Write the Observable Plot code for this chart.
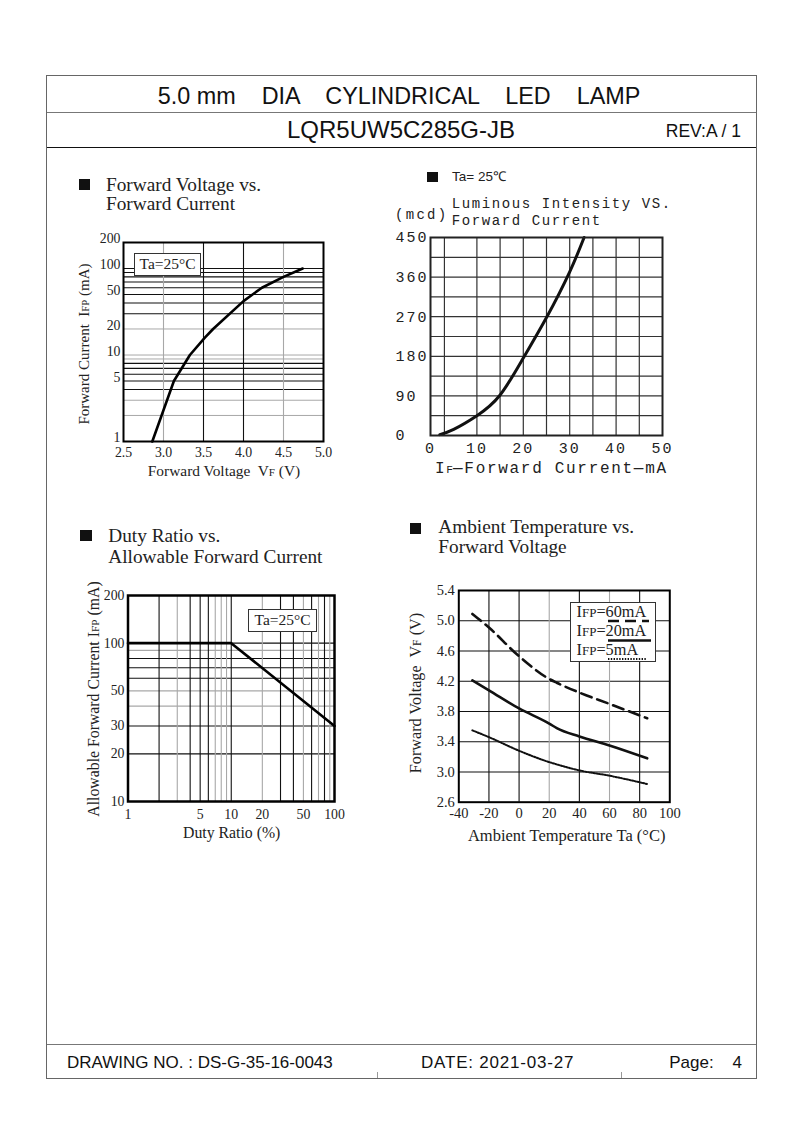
<!DOCTYPE html>
<html><head><meta charset="utf-8">
<script src="https://cdn.jsdelivr.net/npm/d3@7"></script>
<script src="https://cdn.jsdelivr.net/npm/@observablehq/plot@0.6"></script>
<style>
html,body{margin:0;padding:0;background:#fff;}
body{width:794px;height:1123px;position:relative;overflow:hidden;color:#222;}
.abs{position:absolute;white-space:pre;}
.box{position:absolute;background:#fff;border:1px solid #333;box-sizing:border-box;}
.sq{position:absolute;background:#111;}
.hl{position:absolute;}
svg{position:absolute;}
</style></head><body>
<script>
// ---------- DATA ----------
// Chart 1: Forward Voltage vs. Forward Current
const fvVoltage = [2.86, 3.13, 3.33, 3.52, 3.62, 4.0, 4.23, 4.5, 4.74];
const fvCurrent = [1, 5, 10, 16, 20, 42, 60, 80, 100];
const fvXTicks = [2.5, 3.0, 3.5, 4.0, 4.5, 5.0];
const fvYTicks = [1, 5, 10, 20, 50, 100, 200];
const fvXGrid = [3.0, 3.5, 4.0, 4.5];
const fvYGrid = [2, 3, 4, 5, 6, 7, 8, 9, 10, 20, 30, 40, 50, 60, 70, 80, 90, 100];

// Chart 2: Luminous Intensity vs. Forward Current
const liCurrent = [2, 5, 10, 15, 20, 25, 30, 33.1];
const liIntensity = [2, 14, 45, 92, 176, 268, 372, 450];
const liXTicks = [0, 10, 20, 30, 40, 50];
const liYTicks = [0, 90, 180, 270, 360, 450];
const liXGrid = [3, 10, 15, 20, 25, 30, 35, 40, 45];
const liYGrid = [45, 90, 135, 180, 225, 270, 315, 360, 405];

// Chart 3: Duty Ratio vs. Allowable Forward Current
const dutyRatio = [1, 10, 100];
const dutyCurrent = [100, 100, 30];
const dutyXTicks = [1, 5, 10, 20, 50, 100];
const dutyYTicks = [10, 20, 30, 50, 100, 200];
const dutyXGrid = [2, 3, 4, 5, 6, 7, 8, 9, 10, 20, 30, 40, 50, 60, 70, 80, 90];
const dutyYGrid = [20, 30, 40, 50, 60, 70, 80, 90, 100];

// Chart 4: Ambient Temperature vs. Forward Voltage
const ambTemp = [-31, -20, 0, 20, 25, 40, 60, 85];
const vf60mA = [5.09, 4.91, 4.53, 4.23, 4.18, 4.05, 3.90, 3.71];
const vf20mA = [4.21, 4.08, 3.84, 3.64, 3.58, 3.47, 3.35, 3.18];
const vf5mA  = [3.55, 3.46, 3.28, 3.13, 3.10, 3.02, 2.95, 2.84];
const ambXTicks = [-40, -20, 0, 20, 40, 60, 80, 100];
const ambYTicks = [2.6, 3.0, 3.4, 3.8, 4.2, 4.6, 5.0, 5.4];
const ambXGrid = [-20, 0, 20, 40, 60, 80];
const ambYGrid = [3.0, 3.4, 3.8, 4.2, 4.6, 5.0];
const ambSeries = [
  {name: "IFP=60mA", values: vf60mA},
  {name: "IFP=20mA", values: vf20mA},
  {name: "IFP=5mA", values: vf5mA}
];

// ---------- STYLE ----------
const GRAY = "#a8a8a8", BLACK = "#111";
const fvGrayX = [3.0, 4.5], fvGrayY = [2, 3, 9, 10, 20];
const dutyGrayX = [3, 7, 8, 9, 20, 50, 70, 90], dutyGrayY = [40, 50, 90];
const ambGrayX = [20, 60];
const SERIF = '"Liberation Serif","Times New Roman",serif';
const SANS = '"Liberation Sans",Arial,sans-serif';
const MONO = '"Liberation Mono","Courier New",monospace';
const K = {serif: 0.8375, sans: 0.8465, mono: 0.7665};
const FAM = {serif: SERIF, sans: SANS, mono: MONO};
const SUB = '<span style="font-size:0.72em">';

// ---------- helpers ----------
function put(el, left, top) { el.style.left = left + "px"; el.style.top = top + "px"; document.body.appendChild(el); return el; }
function div(cls, css) { const d = document.createElement("div"); d.className = cls; Object.assign(d.style, css || {}); document.body.appendChild(d); return d; }
function txt(html, x, baseline, o = {}) {
  const f = o.font || "serif", size = o.size || 14;
  const d = div("abs", {fontFamily: FAM[f], fontSize: size + "px", lineHeight: size + "px", color: o.color || "#222",
    letterSpacing: (o.ls || 0) + "px", top: (baseline - K[f] * size) + "px", left: x + "px"});
  if (o.anchor === "middle") d.style.transform = "translateX(-50%)";
  if (o.anchor === "end") d.style.transform = "translateX(-100%)";
  d.innerHTML = html;
  return d;
}
function vtxt(html, cx, cy, o = {}) {
  const f = o.font || "serif", size = o.size || 14;
  const d = div("abs", {fontFamily: FAM[f], fontSize: size + "px", lineHeight: size + "px", color: o.color || "#222",
    left: cx + "px", top: cy + "px", transform: "translate(-50%,-50%) rotate(-90deg)"});
  d.innerHTML = html;
  return d;
}
const split = (arr, gray) => [arr.filter(v => !gray.includes(v)), arr.filter(v => gray.includes(v))];

// ---------- PAGE FRAME ----------
div("hl", {left: "46px", top: "74.5px", width: "710.5px", height: "1004px", border: "1.5px solid #666", boxSizing: "border-box"});
div("hl", {left: "47px", top: "111.5px", width: "709px", height: "1.5px", background: "#777"});
div("hl", {left: "47px", top: "146.5px", width: "709px", height: "1.5px", background: "#111"});
div("hl", {left: "47px", top: "1043.5px", width: "709px", height: "1.5px", background: "#777"});
div("hl", {left: "377px", top: "1072px", width: "1px", height: "6px", background: "#999"});
div("hl", {left: "621px", top: "1072px", width: "1px", height: "6px", background: "#999"});

txt("5.0 mm    DIA    CYLINDRICAL    LED    LAMP", 399, 104.5, {font: "sans", size: 23.4, anchor: "middle", color: "#111"});
txt("LQR5UW5C285G-JB", 401, 138.5, {font: "sans", size: 24, anchor: "middle", color: "#111"});
txt("REV:A / 1", 741, 138, {font: "sans", size: 17.5, anchor: "end", color: "#111"});
txt("DRAWING NO. : DS-G-35-16-0043", 67, 1068.5, {font: "sans", size: 17, color: "#111"});
txt("DATE: 2021-03-27", 421, 1068.5, {font: "sans", size: 17, ls: 0.8, color: "#111"});
txt("Page:    4", 742, 1068.5, {font: "sans", size: 17, anchor: "end", color: "#111"});

// ---------- CHART TITLES ----------
const TS = 19.3;
div("sq", {left: "78.5px", top: "178.5px", width: "11.5px", height: "11.5px"});
txt("Forward Voltage vs.", 106, 191, {size: TS});
txt("Forward Current", 106, 210, {size: TS});

div("sq", {left: "427px", top: "171.5px", width: "11px", height: "10px"});
txt("Ta= 25℃", 452, 181.5, {font: "sans", size: 13.5});
txt("(mcd)", 395, 218.3, {font: "mono", size: 14, ls: 2.3});
txt("Luminous Intensity VS.", 451.7, 207.3, {font: "mono", size: 14, ls: 1.6});
txt("Forward Current", 451.7, 224.3, {font: "mono", size: 14, ls: 1.6});

div("sq", {left: "80px", top: "530px", width: "11.5px", height: "10.5px"});
txt("Duty Ratio vs.", 108.3, 541.7, {size: TS});
txt("Allowable Forward Current", 108.3, 562.7, {size: TS});

div("sq", {left: "410px", top: "523px", width: "11px", height: "10.5px"});
txt("Ambient Temperature vs.", 438.3, 533.3, {size: TS});
txt("Forward Voltage", 438.3, 553.3, {size: TS});

// ---------- CHART 1 ----------
{
  const [bx, gx] = split(fvXGrid, fvGrayX), [by, gy] = split(fvYGrid, fvGrayY);
  const data = fvVoltage.map((v, i) => ({v, i: fvCurrent[i]}));
  const svg = Plot.plot({
    width: 263, height: 236, marginLeft: 43, marginTop: 12, marginRight: 20, marginBottom: 25,
    style: {fontFamily: SERIF, fontSize: "13.8px", color: "#222", overflow: "visible", background: "none"},
    x: {domain: [2.5, 5]},
    y: {type: "log", domain: [1, 200]},
    marks: [
      Plot.ruleY(gy, {stroke: GRAY, strokeWidth: 1}),
      Plot.ruleY(by, {stroke: BLACK, strokeWidth: 1.1}),
      Plot.ruleX(gx, {stroke: GRAY, strokeWidth: 1.1}),
      Plot.ruleX(bx, {stroke: BLACK, strokeWidth: 1.1}),
      Plot.line(data, {x: "v", y: "i", stroke: "#000", strokeWidth: 2.6}),
      Plot.frame({stroke: "#000", strokeWidth: 2}),
      Plot.axisX({ticks: fvXTicks, tickSize: 0, tickPadding: 6, tickFormat: d => d.toFixed(1), label: null}),
      Plot.axisY({ticks: fvYTicks, tickSize: 0, tickPadding: 3, dy: -3.5, tickFormat: d => String(d), label: null})
    ]
  });
  put(svg, 80, 230);
  const b = div("box", {left: "134.3px", top: "253.3px", width: "66.5px", height: "22.5px", fontFamily: SERIF, fontSize: "15.5px", lineHeight: "20.5px", textAlign: "center"});
  b.textContent = "Ta=25°C";
  vtxt('Forward Current  I' + SUB + 'FP</span> (mA)', 85, 344, {size: 15});
  txt('Forward Voltage  V' + SUB + 'F</span> (V)', 224, 475.5, {size: 15.4, anchor: "middle"});
}

// ---------- CHART 2 ----------
{
  const data = liCurrent.map((c, i) => ({c, l: liIntensity[i]}));
  const svg = Plot.plot({
    width: 302, height: 240, marginLeft: 50, marginTop: 12, marginRight: 20, marginBottom: 30,
    style: {fontFamily: MONO, fontSize: "15px", letterSpacing: "2px", color: "#222", overflow: "visible", background: "none"},
    x: {domain: [0, 50]},
    y: {domain: [0, 450]},
    marks: [
      Plot.ruleY(liYGrid, {stroke: "#333", strokeWidth: 1.2}),
      Plot.ruleX(liXGrid, {stroke: "#333", strokeWidth: 1.2}),
      Plot.line(data, {x: "c", y: "l", stroke: "#111", strokeWidth: 3, curve: "natural"}),
      Plot.frame({stroke: "#222", strokeWidth: 2}),
      Plot.axisX({ticks: liXTicks, tickSize: 0, tickPadding: 7, label: null}),
      Plot.axisY({ticks: liYTicks, tickSize: 0, tickPadding: 3, textAnchor: "start", dx: -32, label: null})
    ]
  });
  put(svg, 380, 225);
  txt('I<span style="font-size:0.7em;letter-spacing:0">F</span>—Forward Current—mA', 435, 473, {font: "mono", size: 16, ls: 1.7});
}

// ---------- CHART 3 ----------
{
  const [bx, gx] = split(dutyXGrid, dutyGrayX), [by, gy] = split(dutyYGrid, dutyGrayY);
  const data = dutyRatio.map((d, i) => ({d, c: dutyCurrent[i]}));
  const svg = Plot.plot({
    width: 274, height: 244, marginLeft: 47.5, marginTop: 10, marginRight: 20, marginBottom: 28,
    style: {fontFamily: SERIF, fontSize: "13.8px", color: "#222", overflow: "visible", background: "none"},
    x: {type: "log", domain: [1, 100]},
    y: {type: "log", domain: [10, 200]},
    marks: [
      Plot.ruleY(gy, {stroke: GRAY, strokeWidth: 1.1}),
      Plot.ruleY(by, {stroke: BLACK, strokeWidth: 1.1}),
      Plot.ruleX(gx, {stroke: GRAY, strokeWidth: 1.1}),
      Plot.ruleX(bx, {stroke: BLACK, strokeWidth: 1.1}),
      Plot.line(data, {x: "d", y: "c", stroke: "#000", strokeWidth: 2.6}),
      Plot.frame({stroke: "#000", strokeWidth: 2.5}),
      Plot.axisX({ticks: dutyXTicks, tickSize: 0, tickPadding: 8, tickFormat: d => String(d), label: null}),
      Plot.axisY({ticks: dutyYTicks, tickSize: 0, tickPadding: 3.5, tickFormat: d => String(d), label: null})
    ]
  });
  put(svg, 80, 585);
  const b = div("box", {left: "248.3px", top: "609.3px", width: "68.5px", height: "22.5px", fontFamily: SERIF, fontSize: "15.5px", lineHeight: "20.5px", textAlign: "center"});
  b.textContent = "Ta=25°C";
  vtxt('Allowable Forward Current I' + SUB + 'FP</span> (mA)', 95, 699, {size: 15.8});
  txt("Duty Ratio (%)", 231.7, 838.5, {size: 15.8, anchor: "middle"});
}

// ---------- CHART 4 ----------
{
  const rows = ambSeries.flatMap(s => ambTemp.map((t, i) => ({s: s.name, t, v: s.values[i]})));
  const [bx, gx] = split(ambXGrid, ambGrayX);
  const sty = {"IFP=60mA": {strokeDasharray: "11,6", strokeWidth: 2.6}, "IFP=20mA": {strokeWidth: 2.6}, "IFP=5mA": {strokeDasharray: "1.4,1.4", strokeWidth: 2}};
  const svg = Plot.plot({
    width: 281.3, height: 249.7, marginLeft: 48.3, marginTop: 10, marginRight: 22, marginBottom: 28,
    style: {fontFamily: SERIF, fontSize: "14.5px", color: "#222", overflow: "visible", background: "none"},
    x: {domain: [-40, 100]},
    y: {domain: [2.6, 5.4]},
    marks: [
      Plot.ruleY(ambYGrid, {stroke: BLACK, strokeWidth: 1.1}),
      Plot.ruleX(gx, {stroke: GRAY, strokeWidth: 1.1}),
      Plot.ruleX(bx, {stroke: BLACK, strokeWidth: 1.1}),
      ...ambSeries.map(s => Plot.line(rows.filter(r => r.s === s.name), {x: "t", y: "v", stroke: "#111", curve: "monotone-x", ...sty[s.name]})),
      Plot.frame({stroke: "#000", strokeWidth: 2}),
      Plot.axisX({ticks: ambXTicks, tickSize: 0, tickPadding: 6, tickFormat: d => String(d), label: null}),
      Plot.axisY({ticks: ambYTicks, tickSize: 0, tickPadding: 4, tickFormat: d => d.toFixed(1), label: null})
    ]
  });
  put(svg, 410, 580);
  // legend
  div("box", {left: "570px", top: "601.7px", width: "85.5px", height: "60px"});
  const LS = '<span style="font-size:0.8em">';
  const names = ['I' + LS + 'FP</span>=60mA', 'I' + LS + 'FP</span>=20mA', 'I' + LS + 'FP</span>=5mA'];
  const bases = [618, 636.7, 655.7];
  names.forEach((n, i) => txt(n, 576.5, bases[i], {size: 16.3}));
  const ns = "http://www.w3.org/2000/svg";
  const ls = document.createElementNS(ns, "svg");
  ls.setAttribute("width", 60); ls.setAttribute("height", 50);
  ls.style.left = "600px"; ls.style.top = "615px"; ls.style.overflow = "visible";
  const samp = [[621, "11,6", 2.6, 608, 649], [640.5, null, 2.6, 608, 651], [659, "1.4,1.4", 2, 608, 647]];
  samp.forEach(([y, dash, w, x1, x2]) => {
    const l = document.createElementNS(ns, "line");
    l.setAttribute("x1", x1 - 600); l.setAttribute("x2", x2 - 600);
    l.setAttribute("y1", y - 615); l.setAttribute("y2", y - 615);
    l.setAttribute("stroke", "#111"); l.setAttribute("stroke-width", w);
    if (dash) l.setAttribute("stroke-dasharray", dash);
    ls.appendChild(l);
  });
  document.body.appendChild(ls);
  vtxt('Forward Voltage  V' + SUB + 'F</span> (V)', 417, 693, {size: 16.2});
  txt("Ambient Temperature Ta (°C)", 566.7, 841.5, {size: 16.5, anchor: "middle"});
}
</script>
</body></html>
